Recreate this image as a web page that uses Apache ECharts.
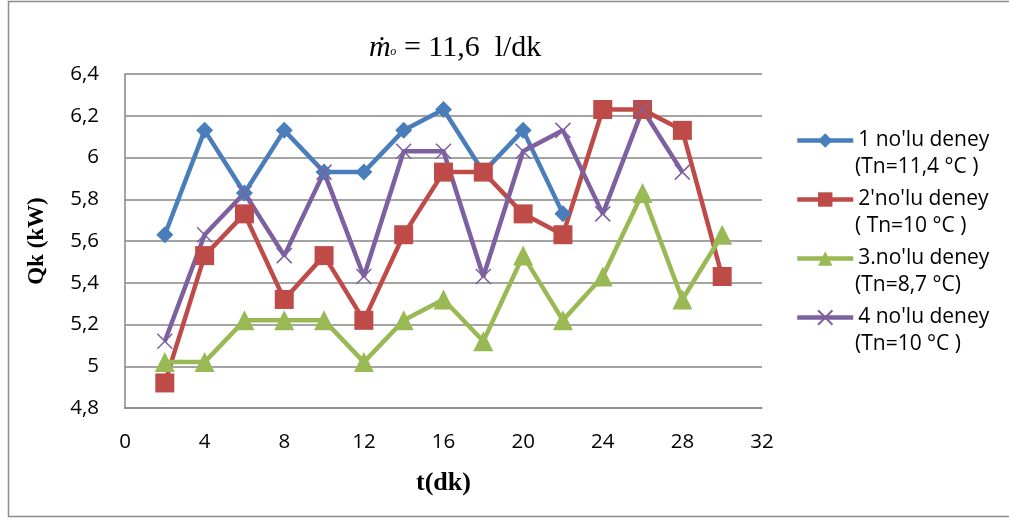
<!DOCTYPE html>
<html>
<head>
<meta charset="utf-8">
<script src="https://cdn.jsdelivr.net/npm/echarts@6/dist/echarts.min.js"></script>
<style>
  html, body { margin: 0; padding: 0; background: #fff; }
  #chart { width: 1009px; height: 520px; }
</style>
</head>
<body>
<div id="chart"></div>
<script>
const times = [2, 4, 6, 8, 10, 12, 14, 16, 18, 20, 22, 24, 26, 28, 30]
const deney1 = [5.63, 6.13, 5.83, 6.13, 5.93, 5.93, 6.13, 6.23, 5.93, 6.13, 5.73]
const deney2 = [4.92, 5.53, 5.73, 5.32, 5.53, 5.22, 5.63, 5.93, 5.93, 5.73, 5.63, 6.23, 6.23, 6.13, 5.43]
const deney3 = [5.02, 5.02, 5.22, 5.22, 5.22, 5.02, 5.22, 5.32, 5.12, 5.53, 5.22, 5.43, 5.83, 5.32, 5.63]
const deney4 = [5.12, 5.63, 5.83, 5.53, 5.93, 5.43, 6.03, 6.03, 5.43, 6.03, 6.13, 5.73, 6.23, 5.93]
const seriesNames = ["1 no'lu deney", "2'no'lu deney", "3.no'lu deney", "4 no'lu deney"]
const seriesNotes = ["(Tn=11,4 °C )", "( Tn=10 °C )", "(Tn=8,7 °C)", "(Tn=10 °C )"]

const pairs = vals => vals.map((v, i) => [times[i], v])
const crossPath = 'path://M0,0L10,10M10,0L0,10'
const legendTop = 128
const legendStep = 59

const chart = echarts.init(document.getElementById('chart'))

const mkSeries = (name, vals, color, symbol, size, extra) => Object.assign({
  name: name,
  type: 'line',
  data: pairs(vals),
  symbol: symbol,
  symbolSize: size,
  lineStyle: { color: color, width: 4.5 },
  itemStyle: { color: color },
  emphasis: { disabled: true },
  animation: false
}, extra || {})

// second line of each legend entry
const noteTexts = seriesNotes.map((t, i) => ({
  type: 'text',
  left: 855,
  top: legendTop + 29 + i * legendStep,
  style: { text: t, fontFamily: 'Open Sans', fontSize: 21, fill: '#000' },
  silent: true
}))

chart.setOption({
  backgroundColor: '#fff',
  title: {
    text: '{m|ṁ}{s|ₒ}{e| = 11,6  l/dk}',
    left: 364,
    top: 28,
    textStyle: {
      rich: {
        m: { fontFamily: 'Liberation Serif', fontStyle: 'italic', fontWeight: 'normal', fontSize: 30, color: '#000' },
        s: { fontFamily: 'Liberation Serif', fontStyle: 'italic', fontWeight: 'normal', fontSize: 20, color: '#000' },
        e: { fontFamily: 'Liberation Serif', fontWeight: 'normal', fontSize: 30, color: '#000' }
      }
    }
  },
  graphic: [{
    type: 'rect',
    shape: { x: 8.5, y: 1.5, width: 1010, height: 515 },
    style: { fill: 'none', stroke: '#8c8c8c', lineWidth: 1.5 },
    silent: true
  }].concat(noteTexts),
  legend: {
    orient: 'vertical',
    left: 795,
    top: legendTop,
    padding: 0,
    itemWidth: 56,
    itemHeight: 18,
    itemGap: legendStep - 25,
    lineStyle: { width: 4.5 },
    textStyle: { fontFamily: 'Open Sans', fontSize: 21, color: '#000', lineHeight: 25 },
    data: seriesNames
  },
  grid: { left: 125, right: 247, top: 74, bottom: 112 },
  xAxis: {
    type: 'value',
    min: 0,
    max: 32,
    interval: 4,
    name: 't(dk)',
    nameLocation: 'middle',
    nameGap: 62,
    nameTextStyle: { fontFamily: 'Liberation Serif', fontWeight: 'bold', fontSize: 26, color: '#000' },
    axisLine: { lineStyle: { color: '#868686', width: 1.5 } },
    axisTick: { show: false },
    axisLabel: { fontFamily: 'Open Sans', fontSize: 20.5, color: '#000', margin: 24 },
    splitLine: { show: false }
  },
  yAxis: {
    type: 'value',
    min: 4.8,
    max: 6.4,
    interval: 0.2,
    name: 'Qk (kW)',
    nameLocation: 'middle',
    nameGap: 76,
    nameTextStyle: { fontFamily: 'Liberation Serif', fontWeight: 'bold', fontSize: 23, color: '#000' },
    axisLine: { show: true, lineStyle: { color: '#868686', width: 1.5 } },
    axisTick: { show: false },
    axisLabel: {
      fontFamily: 'Open Sans', fontSize: 20.5, color: '#000', margin: 26,
      formatter: v => v.toFixed(1).replace('.', ',').replace(/,0$/, '')
    },
    splitLine: { lineStyle: { color: '#868686', width: 1.5 } }
  },
  series: [
    mkSeries(seriesNames[0], deney1, '#4a7ebb', 'diamond', 17),
    mkSeries(seriesNames[1], deney2, '#be4b48', 'rect', 19),
    mkSeries(seriesNames[2], deney3, '#98b954', 'triangle', 20),
    mkSeries(seriesNames[3], deney4, '#7d60a0', crossPath, 15, {
      itemStyle: { color: '#7d60a0', borderColor: '#7d60a0', borderWidth: 1.5 }
    })
  ]
})
</script>
</body>
</html>
